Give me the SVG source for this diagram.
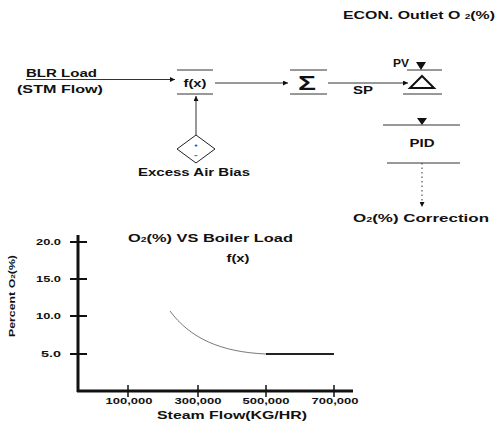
<svg xmlns="http://www.w3.org/2000/svg" width="499" height="421" viewBox="0 0 499 421">
<style>
  .t{font-family:"Liberation Sans",Arial,sans-serif;font-weight:bold;fill:#111;}
  .ln{stroke:#333;stroke-width:1;fill:none;}
  .ax{stroke:#111;fill:none;}
</style>
<defs>
  <marker id="ah" viewBox="0 0 10 10" refX="10" refY="5" markerWidth="8" markerHeight="5" orient="auto" markerUnits="userSpaceOnUse">
    <path d="M0,0 L10,5 L0,10 z" fill="#111"/>
  </marker>
</defs>
<rect width="499" height="421" fill="#fff"/>

<text class="t" x="343" y="19" font-size="11" textLength="152" lengthAdjust="spacingAndGlyphs">ECON. Outlet O <tspan font-size="7">2</tspan>(%)</text>

<g id="input">
  <text class="t" x="26" y="77" font-size="11" textLength="71" lengthAdjust="spacingAndGlyphs">BLR Load</text>
  <text class="t" x="17" y="93" font-size="11" textLength="86" lengthAdjust="spacingAndGlyphs">(STM Flow)</text>
</g>

<g id="fx">
  <line class="ln" x1="177" y1="70" x2="213" y2="70"/>
  <line class="ln" x1="177" y1="94" x2="213" y2="94"/>
  <text class="t" x="195" y="87" font-size="11" text-anchor="middle" textLength="23" lengthAdjust="spacingAndGlyphs">f(x)</text>
</g>

<g id="sum">
  <line class="ln" x1="290" y1="70" x2="327" y2="70"/>
  <line class="ln" x1="290" y1="94" x2="327" y2="94"/>
  <text class="t" x="307" y="90" font-size="21" text-anchor="middle" textLength="18" lengthAdjust="spacingAndGlyphs">Σ</text>
</g>

<g id="delta">
  <line class="ln" x1="407" y1="70" x2="442" y2="70"/>
  <line class="ln" x1="403" y1="94" x2="442" y2="94"/>
  <path d="M416,62 L426,62 L421,70 z" fill="#111"/>
  <text class="t" x="393" y="67" font-size="11" textLength="16" lengthAdjust="spacingAndGlyphs">PV</text>
  <path d="M422,76 L434,88 L410,88 z" fill="none" stroke="#111" stroke-width="2"/>
</g>

<g id="pid">
  <line class="ln" x1="383" y1="125" x2="460" y2="125"/>
  <line class="ln" x1="387" y1="163" x2="460" y2="163"/>
  <path d="M417,118 L427,118 L422,125 z" fill="#111"/>
  <text class="t" x="422" y="147" font-size="11" text-anchor="middle" textLength="25" lengthAdjust="spacingAndGlyphs">PID</text>
</g>

<g id="bias">
  <polygon points="196,135 215,149 196,163 177,149" fill="#fff" stroke="#222" stroke-width="1"/>
  <text class="t" x="196" y="147" font-size="6" text-anchor="middle">+</text>
  <text class="t" x="196" y="158" font-size="6" text-anchor="middle">−</text>
  <text class="t" x="194" y="176" font-size="11" text-anchor="middle" textLength="112" lengthAdjust="spacingAndGlyphs">Excess Air Bias</text>
</g>

<g id="output">
  <text class="t" x="353" y="222" font-size="11" textLength="136" lengthAdjust="spacingAndGlyphs">O<tspan font-size="7">2</tspan>(%) Correction</text>
</g>

<g id="connectors">
  <line class="ln" x1="26" y1="79.5" x2="175" y2="79.5" marker-end="url(#ah)"/>
  <line class="ln" x1="215" y1="83" x2="288" y2="83" marker-end="url(#ah)"/>
  <line class="ln" x1="328" y1="83" x2="408" y2="83" marker-end="url(#ah)"/>
  <line class="ln" x1="196" y1="135" x2="196" y2="96" stroke-width="1.5" marker-end="url(#ah)"/>
  <line class="ln" x1="422" y1="163" x2="422" y2="207" stroke-dasharray="1.5,3" marker-end="url(#ah)"/>
  <text class="t" x="353" y="94" font-size="11" textLength="20" lengthAdjust="spacingAndGlyphs">SP</text>
</g>

<g id="chart">
  <text class="t" x="128" y="242" font-size="11" textLength="165" lengthAdjust="spacingAndGlyphs">O<tspan font-size="7">2</tspan>(%) VS Boiler Load</text>
  <text class="t" x="238" y="262" font-size="11" text-anchor="middle" textLength="23" lengthAdjust="spacingAndGlyphs">f(x)</text>
  <line class="ax" x1="78" y1="235" x2="78" y2="392" stroke-width="3"/>
  <line class="ax" x1="77" y1="391" x2="353" y2="391" stroke-width="3"/>
  <g class="ax" stroke-width="2">
    <line x1="70" y1="242" x2="87" y2="242"/>
    <line x1="70" y1="279" x2="87" y2="279"/>
    <line x1="70" y1="316" x2="87" y2="316"/>
    <line x1="70" y1="354" x2="87" y2="354"/>
  </g>
  <g class="ax" stroke-width="1.5">
    <line x1="128" y1="385" x2="128" y2="397"/>
    <line x1="198" y1="385" x2="198" y2="397"/>
    <line x1="266" y1="385" x2="266" y2="397"/>
    <line x1="334" y1="385" x2="334" y2="397"/>
  </g>
  <g class="t" font-size="9" text-anchor="end">
    <text x="61" y="245" textLength="25" lengthAdjust="spacingAndGlyphs">20.0</text>
    <text x="61" y="282" textLength="25" lengthAdjust="spacingAndGlyphs">15.0</text>
    <text x="61" y="319" textLength="25" lengthAdjust="spacingAndGlyphs">10.0</text>
    <text x="61" y="357" textLength="20" lengthAdjust="spacingAndGlyphs">5.0</text>
  </g>
  <g class="t" font-size="9" text-anchor="middle">
    <text x="129" y="404" textLength="47" lengthAdjust="spacingAndGlyphs">100,000</text>
    <text x="198" y="404" textLength="47" lengthAdjust="spacingAndGlyphs">300,000</text>
    <text x="266" y="404" textLength="47" lengthAdjust="spacingAndGlyphs">500,000</text>
    <text x="335" y="404" textLength="47" lengthAdjust="spacingAndGlyphs">700,000</text>
  </g>
  <text class="t" x="232" y="419" font-size="11" text-anchor="middle" textLength="150" lengthAdjust="spacingAndGlyphs">Steam Flow(KG/HR)</text>
  <text class="t" font-size="9" text-anchor="middle" transform="translate(15,296) rotate(-90)" textLength="82" lengthAdjust="spacingAndGlyphs">Percent O<tspan font-size="6">2</tspan>(%)</text>
  <path d="M170,311 C190,338 220,352 266,354" fill="none" stroke="#555" stroke-width="0.8"/>
  <line x1="266" y1="354" x2="334" y2="354" stroke="#222" stroke-width="1.8"/>
</g>
</svg>
